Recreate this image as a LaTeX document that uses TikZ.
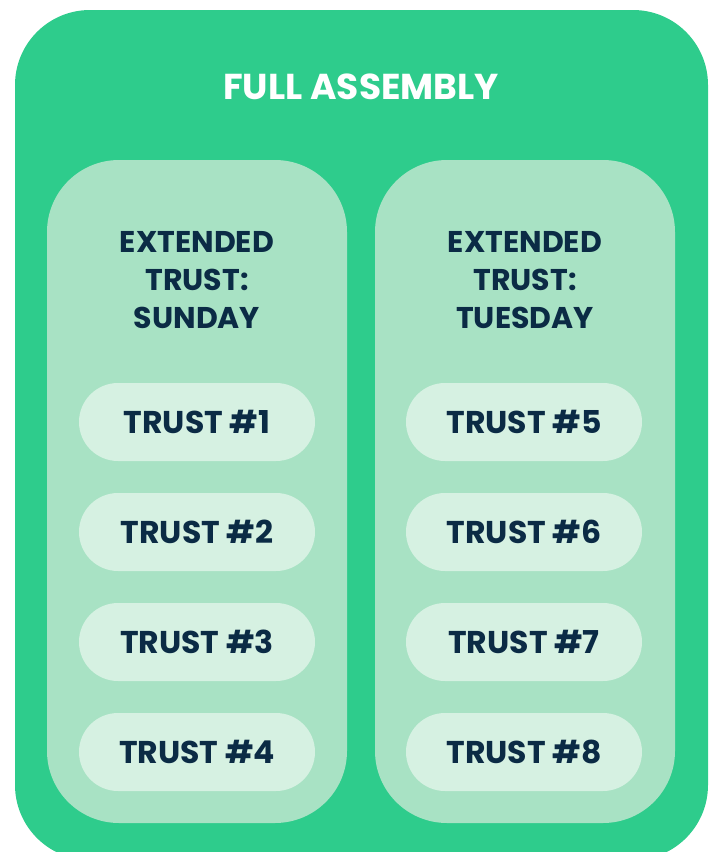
\documentclass[tikz,border=0pt]{standalone}
\usepackage{fontspec}
\setmainfont{Poppins}
\usetikzlibrary{positioning}
\definecolor{assembly}{HTML}{2ECC8C}
\definecolor{panel}{HTML}{A8E2C4}
\definecolor{pill}{HTML}{D6F1E2}
\definecolor{ink}{HTML}{0B2B45}

\begin{document}
\begin{tikzpicture}[
  x=1pt,y=-1pt,
  outer/.style={fill=assembly,rounded corners=75pt,minimum width=693pt,
                minimum height=850pt,inner sep=0pt},
  group/.style={fill=panel,rounded corners=72pt,minimum width=300pt,
                minimum height=663pt,inner sep=0pt},
  trust/.style={fill=pill,rounded corners=39pt,minimum width=236pt,
                minimum height=78pt,inner sep=0pt,text=ink,
                font=\fontsize{31.5}{38}\selectfont\bfseries},
  heading/.style={align=center,text=ink,
                  font=\fontsize{30}{38}\selectfont\bfseries},
  title/.style={text=white,font=\fontsize{36}{40}\selectfont\bfseries}
]
\clip (0,0) rectangle (714,852);

% Full assembly
\node[outer] (assembly) at (361.5,435) {};
\node[title] (title) at (361,87) {FULL ASSEMBLY};

% Extended trusts
\node[group] (sunday) at (197,491.5) {};
\node[group] (tuesday) at (525,491.5) {};
\node[heading] (sundayhead) at (197,280) {EXTENDED\\TRUST:\\SUNDAY};
\node[heading] (tuesdayhead) at (525,280) {EXTENDED\\TRUST:\\TUESDAY};

% Trusts
\foreach \i/\y in {1/422,2/532,3/642,4/752}{
  \node[trust] (trust\i) at (197,\y) {TRUST \#\i};
}
\foreach \i/\y in {5/422,6/532,7/642,8/752}{
  \node[trust] (trust\i) at (524,\y) {TRUST \#\i};
}

\end{tikzpicture}
\end{document}
